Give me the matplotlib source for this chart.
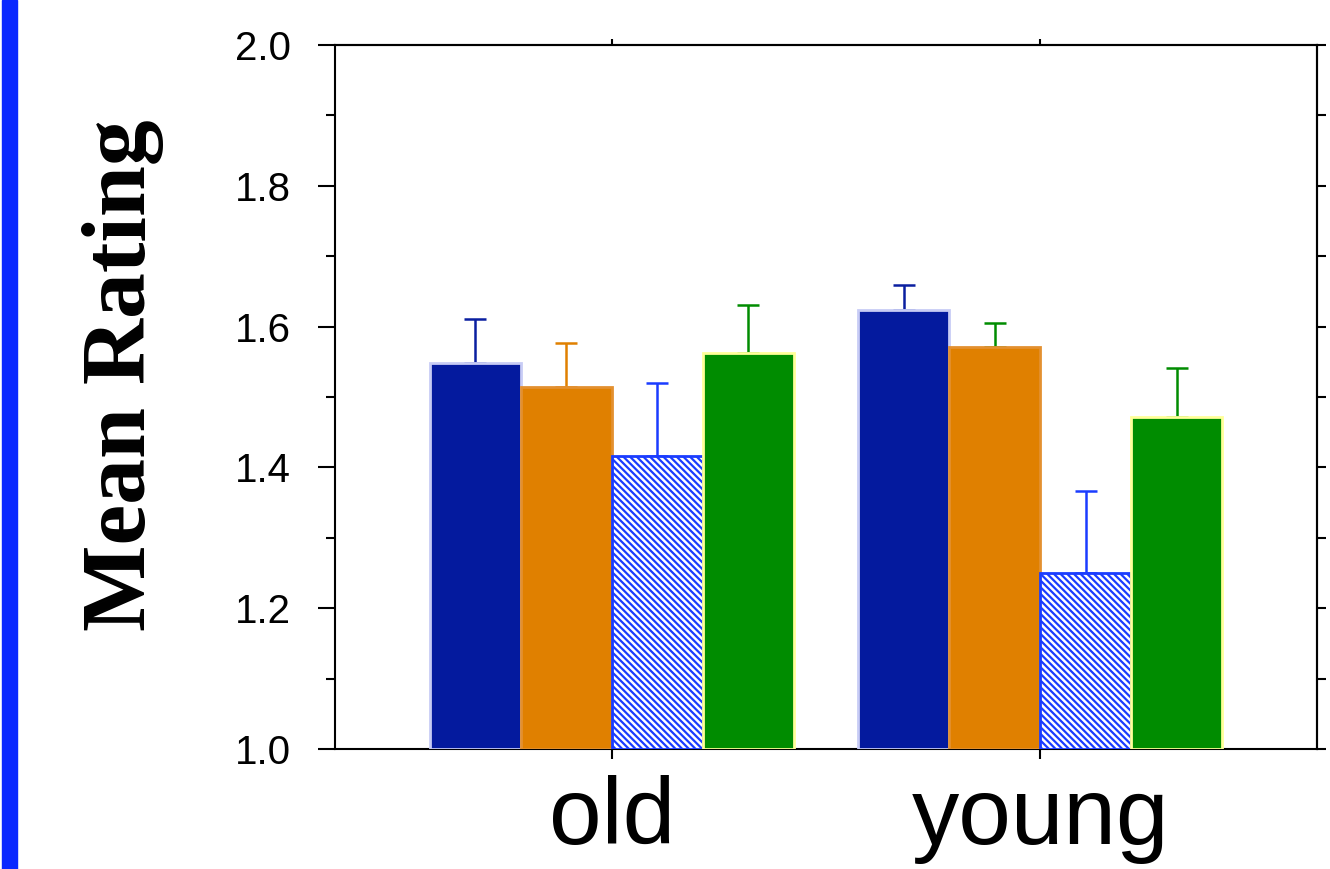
import matplotlib
matplotlib.use("Agg")
import matplotlib.pyplot as plt
import numpy as np
from matplotlib.patches import Rectangle

# data
groups = ["old", "young"]
conditions = ["c1", "c2", "c3", "c4"]
old_means = [1.549, 1.514, 1.416, 1.562]
young_means = [1.624, 1.571, 1.250, 1.471]
old_err = [0.062, 0.062, 0.104, 0.069]
young_err = [0.035, 0.034, 0.117, 0.070]

bar_colors = ["#041A9E", "#E08000", "white", "#008C00"]
edge_colors = ["#C8CCF5", "#E39030", "#1A3CFF", "#FFFF99"]
hatches = [None, None, "\\\\\\\\\\", None]
old_err_colors = ["#0A1FA0", "#E08000", "#1A3CFF", "#008C00"]
young_err_colors = ["#0A1FA0", "#008C00", "#1A3CFF", "#008C00"]

plt.rcParams["hatch.linewidth"] = 1.6

fig = plt.figure(figsize=(13.3, 8.69), dpi=100)
ax = fig.add_axes([335 / 1330, 1 - 749 / 869, (1317 - 335) / 1330, (749 - 45) / 869])

x = np.arange(len(groups))
width = 0.2126
means = np.array([old_means, young_means])
errs = np.array([old_err, young_err])
err_cols = [old_err_colors, young_err_colors]

for j in range(len(conditions)):
    xpos = x + (j - 1.5) * width
    ax.bar(xpos, means[:, j] - 1.0, width, bottom=1.0, color=bar_colors[j],
           edgecolor=edge_colors[j], linewidth=2, hatch=hatches[j], zorder=3)
    for i in range(len(groups)):
        ax.errorbar(xpos[i], means[i, j], yerr=[[0], [errs[i, j]]], fmt="none",
                    ecolor=err_cols[i][j], elinewidth=1.8, capsize=8, capthick=1.8,
                    zorder=2)

ax.set_xlim(-0.647, 1.647)
ax.set_ylim(1.0, 2.0)
ax.set_yticks([1.0, 1.2, 1.4, 1.6, 1.8, 2.0])
ax.set_yticklabels(["1.0", "1.2", "1.4", "1.6", "1.8", "2.0"],
                   family="Liberation Sans", fontsize=29)
ax.set_yticks(np.arange(1.1, 2.0, 0.2), minor=True)
ax.set_xticks(x)
ax.set_xticklabels(groups, family="Liberation Sans", fontsize=68)

for s in ax.spines.values():
    s.set_linewidth(1.5)

ax.tick_params(axis="y", which="major", direction="out", length=12, width=1.5, pad=20)
ax.tick_params(axis="y", which="minor", direction="out", length=6.5, width=1.5)
ax.tick_params(axis="x", which="major", direction="out", length=7, width=1.5, pad=12)

# right and top ticks are shorter
sec_y = ax.secondary_yaxis("right")
sec_y.set_yticks(np.arange(1.0, 2.01, 0.1))
sec_y.tick_params(direction="out", length=6.5, width=1.5, labelright=False)
sec_y.spines["right"].set_linewidth(1.5)
sec_x = ax.secondary_xaxis("top")
sec_x.set_xticks(x)
sec_x.tick_params(direction="out", length=4, width=1.5, labeltop=False)
sec_x.spines["top"].set_linewidth(1.5)

fig.text(123 / 1330, 1 - 375 / 869, "Mean Rating", rotation=90, ha="center",
         va="center", family="Liberation Serif", fontweight="bold", fontsize=66)

# blue strip at the left edge
fig.add_artist(Rectangle((2 / 1330, 0), 15 / 1330, 1, transform=fig.transFigure,
                         color="#0A28FF", zorder=0))

fig.savefig("out.png", dpi=100)
